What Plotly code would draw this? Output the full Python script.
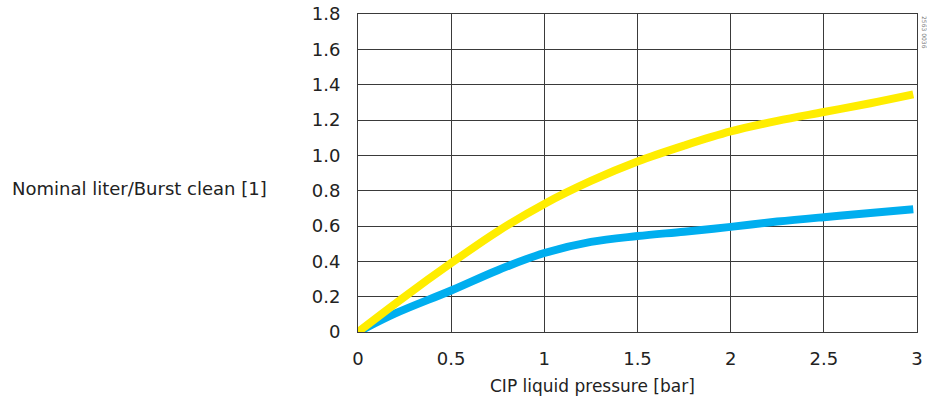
import plotly.graph_objects as go

pressure_yellow = [0, 0.25, 0.5, 0.75, 1.0, 1.25, 1.5, 1.75, 2.0, 2.25, 2.5, 2.75, 2.98]
liters_yellow = [0, 0.20, 0.39, 0.57, 0.725, 0.855, 0.965, 1.055, 1.135, 1.195, 1.245, 1.295, 1.345]

pressure_blue = [0, 0.2, 0.5, 0.75, 1.0, 1.25, 1.5, 1.75, 2.0, 2.25, 2.5, 2.75, 2.98]
liters_blue = [0, 0.105, 0.235, 0.35, 0.447, 0.51, 0.543, 0.568, 0.595, 0.625, 0.65, 0.673, 0.695]

x_ticks = [0, 0.5, 1, 1.5, 2, 2.5, 3]
x_ticktext = ["0", "0.5", "1", "1.5", "2", "2.5", "3"]
y_ticks = [0, 0.2, 0.4, 0.6, 0.8, 1.0, 1.2, 1.4, 1.6, 1.8]
y_ticktext = ["0", "0.2", "0.4", "0.6", "0.8", "1.0", "1.2", "1.4", "1.6", "1.8"]

FONT = "DejaVu Sans, Verdana, sans-serif"
TXT = "#222"

fig = go.Figure()
fig.add_trace(go.Scatter(x=pressure_blue, y=liters_blue, mode="lines",
                         line=dict(color="#00AEEF", width=8, shape="spline", smoothing=1.0),
                         showlegend=False, hoverinfo="skip"))
fig.add_trace(go.Scatter(x=pressure_yellow, y=liters_yellow, mode="lines",
                         line=dict(color="#FFED00", width=8, shape="spline", smoothing=1.0),
                         showlegend=False, hoverinfo="skip"))

grid_col = "#3a3a3a"
fig.update_xaxes(range=[0, 3], tickvals=x_ticks, ticktext=x_ticktext, automargin=False,
                 showgrid=True, gridcolor=grid_col, gridwidth=1,
                 showline=True, linecolor=grid_col, linewidth=1, mirror=True,
                 zeroline=False, ticks="", ticklabelstandoff=10,
                 tickfont=dict(family=FONT, size=18, color=TXT))
fig.update_yaxes(range=[0, 1.8], tickvals=y_ticks, ticktext=y_ticktext, automargin=False,
                 showgrid=True, gridcolor=grid_col, gridwidth=1,
                 showline=True, linecolor=grid_col, linewidth=1, mirror=True,
                 zeroline=False, ticks="", ticklabelstandoff=13,
                 tickfont=dict(family=FONT, size=18, color=TXT))

W, H = 927, 405
L, R, T, B = 358, 10, 14, 73
PW = W - L - R
PH = H - T - B

def px_x(px):
    return (px - L) / PW

def px_y(py):
    return (H - B - py) / PH

fig.add_annotation(text="Nominal liter/Burst clean [1]", xref="paper", yref="paper",
                   x=px_x(10), y=px_y(188), xanchor="left", yanchor="middle", showarrow=False,
                   font=dict(family=FONT, size=18, color=TXT))
fig.add_annotation(text="CIP liquid pressure [bar]", xref="paper", yref="paper",
                   x=px_x(592), y=px_y(386), xanchor="center", yanchor="middle", showarrow=False,
                   font=dict(family=FONT, size=17, color=TXT))
fig.add_annotation(text="2563 0036", xref="paper", yref="paper",
                   x=px_x(919), y=px_y(14), xanchor="left", yanchor="top", showarrow=False,
                   textangle=90, font=dict(family=FONT, size=6, color="#777"))

fig.update_layout(width=W, height=H, margin=dict(l=L, r=R, t=T, b=B),
                  plot_bgcolor="white", paper_bgcolor="white")

fig.write_html("out.html", config={"displayModeBar": False},
               post_script="document.body.style.margin='0';")
